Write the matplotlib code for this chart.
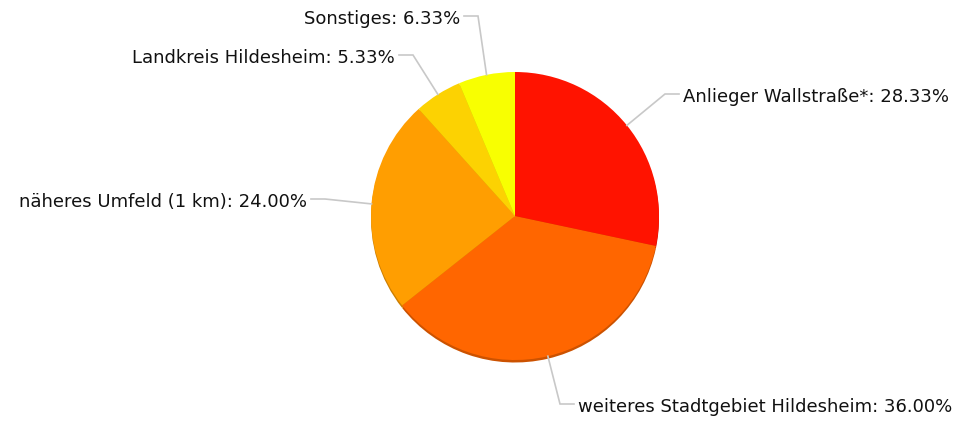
import matplotlib
matplotlib.use("Agg")
import matplotlib.pyplot as plt
import numpy as np
from matplotlib.colors import to_rgb

labels = ["Anlieger Wallstraße*", "weiteres Stadtgebiet Hildesheim", "näheres Umfeld (1 km)",
          "Landkreis Hildesheim", "Sonstiges"]
values = [28.33, 36.00, 24.00, 5.33, 6.33]
colors = ["#FF1300", "#FF6600", "#FF9E01", "#FCD202", "#F8FF01"]

W, H = 971, 421
fig = plt.figure(figsize=(W / 100, H / 100), dpi=100)
ax = fig.add_axes([0, 0, 1, 1])

cx, cy, r = 515, H - 216, 144

# shadow
shadow_cols = [tuple(c * 0.8 for c in to_rgb(col)) for col in colors]
ax.pie(values, colors=shadow_cols, startangle=90, counterclock=False,
       center=(cx, cy - 2.5), radius=r, frame=True,
       wedgeprops=dict(linewidth=0))
wedges, _ = ax.pie(values, colors=colors, startangle=90, counterclock=False,
                   center=(cx, cy), radius=r, frame=True,
                   wedgeprops=dict(linewidth=0))
ax.set_xlim(0, W)
ax.set_ylim(0, H)
ax.axis("off")

# label layout (elbow point, side)
elbows = [(665, H - 94), (560, H - 404), (325, H - 199), (413, H - 55), (478, H - 16)]
sides = [1, 1, -1, -1, -1]

total = sum(values)
cum = 0
for i, v in enumerate(values):
    mid = (cum + v / 2) / total * 360
    cum += v
    ang = np.deg2rad(90 - mid)
    px, py = cx + r * np.cos(ang), cy + r * np.sin(ang)
    ex, ey = elbows[i]
    hx = ex + 14 * sides[i]
    ax.plot([px, ex, hx], [py, ey, ey], color="#c8c8c8", lw=1.2, zorder=1,
            solid_joinstyle="miter")
    tx = hx + 4 * sides[i]
    ax.text(tx, ey - 3, f"{labels[i]}: {v:.2f}%", fontsize=13,
            family="DejaVu Sans", color="#111111",
            ha="left" if sides[i] > 0 else "right", va="center")

fig.savefig("out.png", dpi=100)
